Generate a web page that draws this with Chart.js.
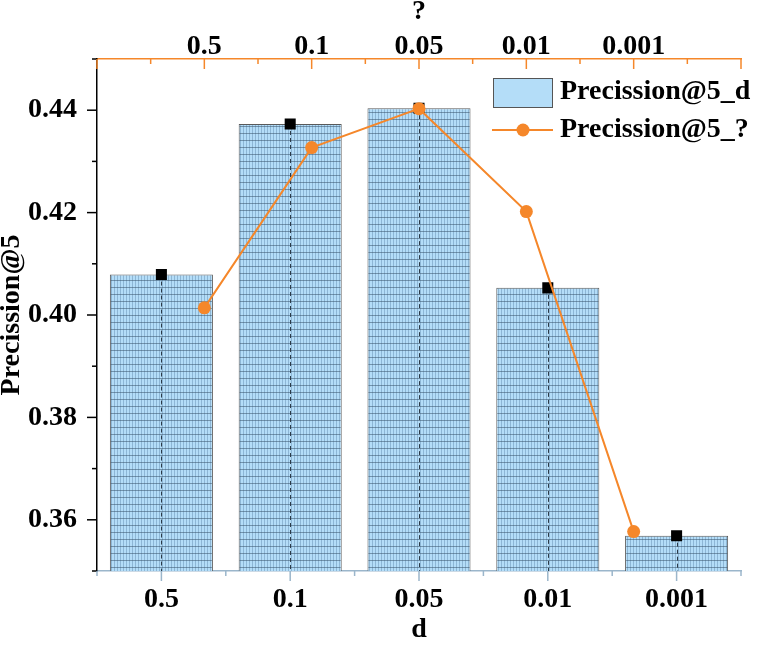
<!DOCTYPE html>
<html>
<head>
<meta charset="utf-8">
<script src="https://cdn.jsdelivr.net/npm/chart.js@4"></script>
<style>
  html, body { margin: 0; padding: 0; background: #fff; }
  #wrap { width: 757px; height: 648px; }
</style>
</head>
<body>
<div id="wrap"><canvas id="c" width="757" height="648"></canvas></div>
<script>
// data
const categories = ['0.5', '0.1', '0.05', '0.01', '0.001'];
const topLabels = ['0.5', '0.1', '0.05', '0.01', '0.001'];
const barValues = [0.4079, 0.4373, 0.4404, 0.4053, 0.3569];
const lineValues = [0.4014, 0.4327, 0.4403, 0.4202, 0.3577];

const FONT = '"Liberation Serif", "Times New Roman", serif';
const ORANGE = '#f5872a';
const BAR_BLUE = '#b4ddf8';

// grid texture for the bars
const makePattern = () => {
  const p = document.createElement('canvas');
  p.width = 6; p.height = 7;
  const g = p.getContext('2d');
  g.fillStyle = BAR_BLUE;
  g.fillRect(0, 0, 6, 7);
  g.fillStyle = 'rgba(70,110,150,0.35)';
  g.fillRect(0, 0, 1, 7);
  g.fillRect(3, 0, 1, 7);
  g.fillStyle = 'rgba(60,85,110,0.55)';
  g.fillRect(0, 0, 6, 1);
  return g.createPattern(p, 'repeat');
};

const ctx = document.getElementById('c').getContext('2d');

// tick marks, dashed centre lines and legend
const extras = {
  id: 'extras',
  afterDatasetDraw(chart, args) {
    if (args.index !== 0) return;
    const {x, y} = chart.scales;
    const c = chart.ctx;
    c.save();
    c.strokeStyle = '#2b3a48';
    c.lineWidth = 1;
    c.setLineDash([4, 3]);
    barValues.forEach((v, i) => {
      const px = Math.round(x.getPixelForValue(i)) + 0.5;
      c.beginPath();
      c.moveTo(px, y.getPixelForValue(v));
      c.lineTo(px, y.bottom);
      c.stroke();
    });
    c.restore();
  },
  afterDraw(chart) {
    const {x, x2, y} = chart.scales;
    const c = chart.ctx;
    c.save();
    c.lineWidth = 1.5;
    // left axis
    c.strokeStyle = '#000';
    for (let k = 35; k <= 45; k++) {
      const py = y.getPixelForValue(k / 100);
      const len = k % 2 === 0 ? 10 : 5;
      c.beginPath();
      c.moveTo(y.right - len, py);
      c.lineTo(y.right, py);
      c.stroke();
    }
    // bottom axis
    c.strokeStyle = '#9bb6cb';
    for (let i = 0; i < categories.length; i++) {
      const px = x.getPixelForValue(i);
      c.beginPath();
      c.moveTo(px, x.top);
      c.lineTo(px, x.top + 10);
      c.stroke();
    }
    for (let i = 0; i <= categories.length; i++) {
      const px = x.getPixelForValue(i - 0.5);
      c.beginPath();
      c.moveTo(px, x.top);
      c.lineTo(px, x.top + 5);
      c.stroke();
    }
    // top axis
    c.strokeStyle = ORANGE;
    for (let k = 0; k <= 12; k++) {
      const px = x2.getPixelForValue(k / 2);
      const len = k % 2 === 0 ? 10 : 5;
      c.beginPath();
      c.moveTo(px, x2.bottom);
      c.lineTo(px, x2.bottom + len);
      c.stroke();
    }
    // legend
    c.fillStyle = BAR_BLUE;
    c.fillRect(493, 78, 59, 29);
    c.strokeStyle = '#555';
    c.lineWidth = 1;
    c.strokeRect(493.5, 78.5, 59, 29);
    c.strokeStyle = ORANGE;
    c.lineWidth = 2;
    c.beginPath();
    c.moveTo(492, 130);
    c.lineTo(553, 130);
    c.stroke();
    c.fillStyle = ORANGE;
    c.beginPath();
    c.arc(523, 130, 6.5, 0, Math.PI * 2);
    c.fill();
    c.fillStyle = '#000';
    c.font = 'bold 28px ' + FONT;
    c.textBaseline = 'middle';
    c.textAlign = 'left';
    c.fillText(chart.data.datasets[0].label, 560, 92);
    c.fillText(chart.data.datasets[1].label, 560, 130);
    c.restore();
  }
};

new Chart(ctx, {
  data: {
    labels: categories,
    datasets: [{
      type: 'bar',
      label: 'Precission@5_d',
      data: barValues,
      xAxisID: 'x',
      yAxisID: 'y',
      backgroundColor: makePattern(),
      borderColor: '#5a5a5a',
      borderWidth: 1,
      grouped: false,
      barPercentage: 0.8,
      categoryPercentage: 1,
      order: 3
    }, {
      type: 'line',
      label: 'Precission@5_?',
      data: lineValues.map((v, i) => ({x: i + 1, y: v})),
      xAxisID: 'x2',
      yAxisID: 'y',
      borderColor: ORANGE,
      backgroundColor: ORANGE,
      borderWidth: 2,
      pointRadius: 6.5,
      pointBorderWidth: 0,
      tension: 0,
      order: 1
    }, {
      type: 'line',
      label: 'marks',
      data: barValues,
      xAxisID: 'x',
      yAxisID: 'y',
      showLine: false,
      pointStyle: 'rect',
      pointRadius: 7.8,
      pointBackgroundColor: '#000',
      pointBorderColor: '#000',
      pointBorderWidth: 0,
      order: 2
    }]
  },
  options: {
    responsive: false,
    animation: false,
    layout: {padding: {left: 0, right: 16, top: 0, bottom: 0}},
    plugins: {legend: {display: false}, tooltip: {enabled: false}},
    scales: {
      x: {
        type: 'category',
        position: 'bottom',
        offset: true,
        grid: {display: false},
        border: {display: true, color: '#9bb6cb', width: 1.5},
        ticks: {color: '#000', font: {family: FONT, size: 28, weight: 'bold', lineHeight: 1}, padding: 7, maxRotation: 0},
        title: {display: true, text: 'd', color: '#000', font: {family: FONT, size: 28, weight: 'bold', lineHeight: 1}, padding: {top: 0, bottom: 4}},
        afterFit(s) { s.height = 77; }
      },
      x2: {
        type: 'linear',
        position: 'top',
        min: 0,
        max: 6,
        grid: {display: false},
        border: {display: true, color: ORANGE, width: 1.5},
        ticks: {
          stepSize: 1,
          color: '#000',
          font: {family: FONT, size: 28, weight: 'bold', lineHeight: 1},
          padding: -10,
          maxRotation: 0,
          callback: v => topLabels[v - 1] || ''
        },
        title: {display: true, text: '?', color: '#000', font: {family: FONT, size: 28, weight: 'bold', lineHeight: 1}, padding: {top: -2, bottom: 0}},
        afterFit(s) { s.height = 59; }
      },
      y: {
        type: 'linear',
        position: 'left',
        min: 0.35,
        max: 0.45,
        grid: {display: false},
        border: {display: true, color: '#000', width: 1.5},
        ticks: {
          stepSize: 0.01,
          color: '#000',
          font: {family: FONT, size: 28, weight: 'bold', lineHeight: 1},
          padding: 12,
          callback: v => {
            const k = Math.round(v * 100);
            return (k % 2 === 0 && k > 35 && k < 45) ? (k / 100).toFixed(2) : '';
          }
        },
        title: {display: true, text: 'Precission@5', color: '#000', font: {family: FONT, size: 28, weight: 'bold', lineHeight: 1}, padding: {top: -2, bottom: 0}},
        afterFit(s) { s.width = 97; }
      }
    }
  },
  plugins: [extras]
});
</script>
</body>
</html>
